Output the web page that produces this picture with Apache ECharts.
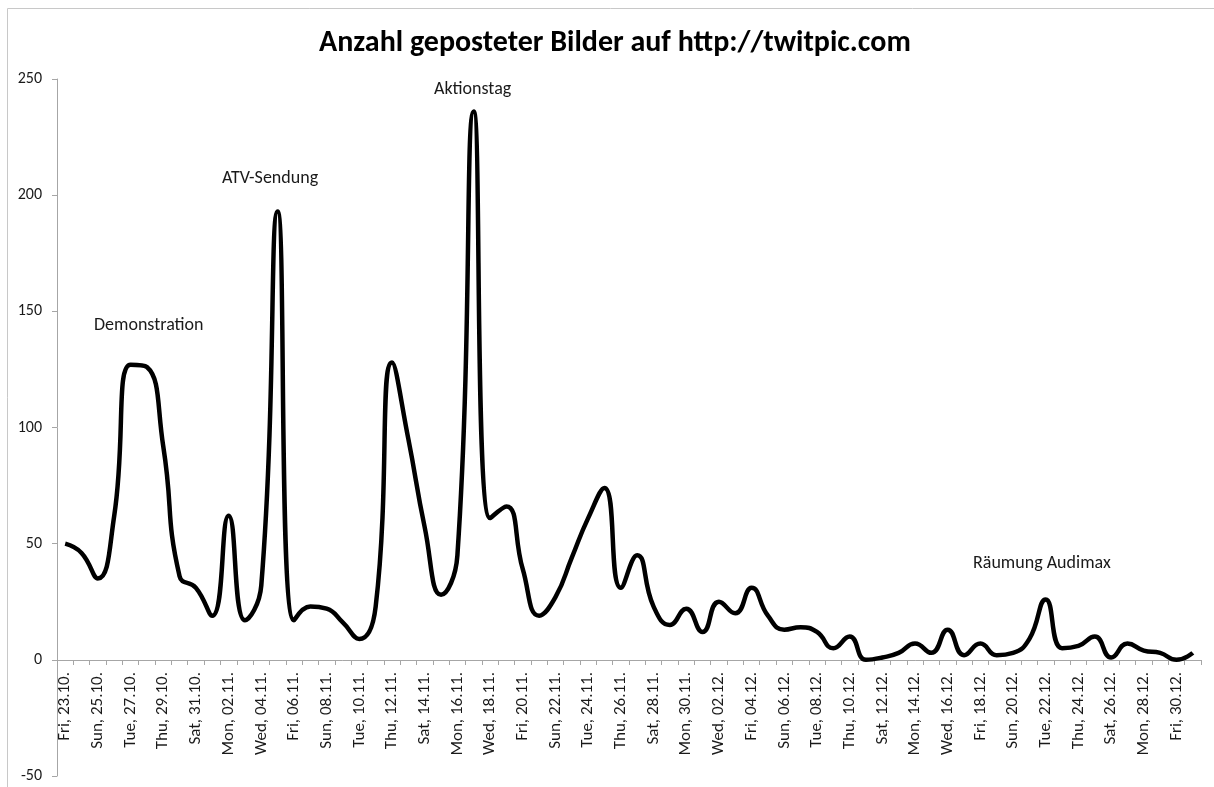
<!DOCTYPE html>
<html>
<head>
<meta charset="utf-8">
<script src="https://cdn.jsdelivr.net/npm/echarts@6/dist/echarts.min.js"></script>
<style>
  html, body { margin: 0; padding: 0; background: #fff; }
  #chart { width: 1214px; height: 787px; }
</style>
</head>
<body>
<div id="chart"></div>
<script>
// every second day is labelled on the axis
var tickLabels = [
  'Fri, 23.10.', 'Sun, 25.10.', 'Tue, 27.10.', 'Thu, 29.10.', 'Sat, 31.10.',
  'Mon, 02.11.', 'Wed, 04.11.', 'Fri, 06.11.', 'Sun, 08.11.', 'Tue, 10.11.',
  'Thu, 12.11.', 'Sat, 14.11.', 'Mon, 16.11.', 'Wed, 18.11.', 'Fri, 20.11.',
  'Sun, 22.11.', 'Tue, 24.11.', 'Thu, 26.11.', 'Sat, 28.11.', 'Mon, 30.11.',
  'Wed, 02.12.', 'Fri, 04.12.', 'Sun, 06.12.', 'Tue, 08.12.', 'Thu, 10.12.',
  'Sat, 12.12.', 'Mon, 14.12.', 'Wed, 16.12.', 'Fri, 18.12.', 'Sun, 20.12.',
  'Tue, 22.12.', 'Thu, 24.12.', 'Sat, 26.12.', 'Mon, 28.12.', 'Fri, 30.12.'
];

// pictures per day, 23.10. - 31.12.
var pictures = [
  50, 46, 35, 62, 127, 126, 92, 36, 31, 19,
  62, 17, 32, 193, 17, 23, 22, 16, 9, 23,
  128, 95, 57, 28, 45, 236, 61, 66, 39, 19,
  27, 44, 61, 74, 31, 45, 23, 15, 22, 12,
  25, 20, 31, 19, 13, 14, 12, 5, 10, 0,
  1, 3, 7, 3, 13, 2, 7, 2, 3, 9,
  26, 5, 6, 10, 1, 7, 4, 3, 0, 3
];

var notes = [
  { text: 'Demonstration', x: 94, y: 327 },
  { text: 'ATV-Sendung', x: 222, y: 180 },
  { text: 'Aktionstag', x: 434, y: 91 },
  { text: 'Räumung Audimax', x: 973, y: 565 }
];

var days = [];
for (var i = 0; i < pictures.length; i++) {
  days.push(i % 2 === 0 ? tickLabels[i / 2] : '');
}

var chart = echarts.init(document.getElementById('chart'));
var font = 'Calibri, Carlito, "Open Sans", sans-serif';
var axisGray = '#a6a6a6';

var option = {
  animation: false,
  title: {
    text: 'Anzahl geposteter Bilder auf http://twitpic.com',
    left: 314,
    top: 23,
    textStyle: { fontFamily: font, fontSize: 30, fontWeight: 'bold', color: '#000' }
  },
  grid: { left: 57, right: 13, top: 79, bottom: 11, outerBoundsMode: 'none' },
  xAxis: {
    type: 'category',
    data: days,
    boundaryGap: true,
    // the axis sits on y = 0, labels hang right below it
    offset: -116,
    axisLine: { onZero: false, lineStyle: { color: axisGray, width: 1 } },
    axisTick: { show: true, interval: 0, length: 5, lineStyle: { color: axisGray } },
    axisLabel: {
      interval: 0,
      rotate: 90,
      margin: 12,
      hideOverlap: false,
      fontFamily: font,
      fontSize: 17,
      color: '#1a1a1a'
    },
    splitLine: { show: false }
  },
  yAxis: {
    type: 'value',
    min: -50,
    max: 250,
    interval: 50,
    axisLine: { show: true, lineStyle: { color: axisGray } },
    axisTick: { show: true, length: 5, lineStyle: { color: axisGray } },
    axisLabel: { fontFamily: font, fontSize: 16, color: '#1a1a1a', margin: 15 },
    splitLine: { show: false }
  },
  series: [{
    type: 'line',
    data: pictures,
    smooth: 0.5,
    symbol: 'none',
    lineStyle: { color: '#000', width: 4.5 }
  }],
  graphic: notes.map(function (n) {
    return {
      type: 'text',
      left: n.x,
      top: n.y - 11,
      style: { text: n.text, font: '18px ' + font, fill: '#1a1a1a' }
    };
  }).concat([{
    // outer frame of the chart area
    type: 'polyline',
    shape: { points: [[7.5, 787], [7.5, 8.5], [1214, 8.5]] },
    style: { stroke: '#c8c8c8', lineWidth: 1, fill: null }
  }])
};

chart.setOption(option);
</script>
</body>
</html>
